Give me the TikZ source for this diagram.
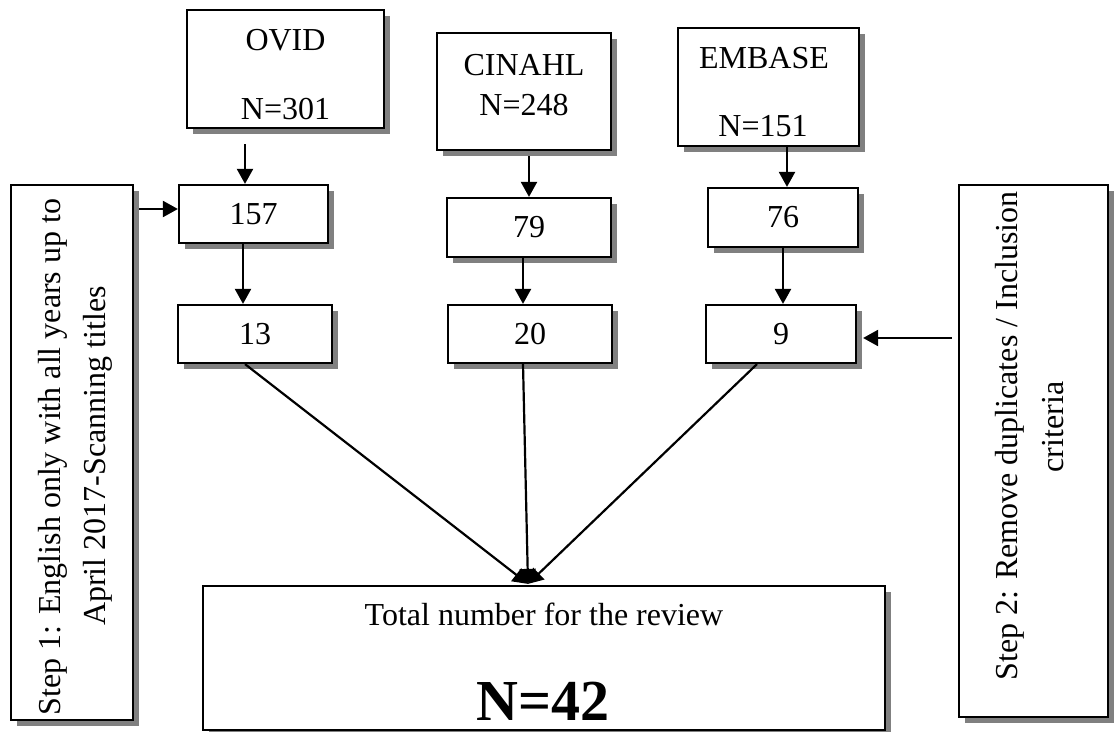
\documentclass[tikz,border=0pt]{standalone}
\usepackage{fontspec}
\setmainfont{Liberation Serif}
\usetikzlibrary{arrows.meta,shadows,calc}
\begin{document}
\begin{tikzpicture}[x=1pt,y=-1pt,
  box/.style={draw=black,line width=2.2pt,fill=white,inner sep=0pt,
    font=\fontsize{32}{38}\selectfont,
    drop shadow={shadow xshift=6pt,shadow yshift=-6pt,fill=black!50,opacity=1}},
  lbl/.style={font=\fontsize{32}{38}\selectfont,inner sep=0pt,anchor=base},
  vlbl/.style={lbl,rotate=90},
  arr/.style={line width=2.2pt,-{Triangle[length=15pt,width=16pt]}}]
\useasboundingbox (0,0) rectangle (1119,731);

% database boxes
\node[box,minimum width=197pt,minimum height=118pt] (ovid)   at (285.5,69) {};
\node[box,minimum width=174pt,minimum height=117pt] (cinahl) at (524,91.5) {};
\node[box,minimum width=181pt,minimum height=118pt] (embase) at (768.5,87) {};
\node[lbl] (ovidT) at (285.5,50) {OVID};
\node[lbl] (ovidN) at (285.5,119) {N=301};
\node[lbl] (cinT) at (524,75) {CINAHL};
\node[lbl] (cinN) at (524,115) {N=248};
\node[lbl] (embT) at (764,68) {EMBASE};
\node[lbl] (embN) at (763,136) {N=151};

% count boxes
\node[box,minimum width=149pt,minimum height=58pt] (n157) at (253.5,214) {157};
\node[box,minimum width=164pt,minimum height=59pt] (n79)  at (529,227.5) {79};
\node[box,minimum width=150pt,minimum height=59pt] (n76)  at (783,217.5) {76};
\node[box,minimum width=154pt,minimum height=58pt] (n13)  at (255,334) {13};
\node[box,minimum width=164pt,minimum height=58pt] (n20)  at (530,334) {20};
\node[box,minimum width=150pt,minimum height=58pt] (n9)   at (781,334) {9};

% step boxes
\node[box,minimum width=122pt,minimum height=535pt] (step1) at (72,452.5) {};
\node[vlbl] (s1a) at (60,457) {Step 1: English only with all years up to};
\node[vlbl] (s1b) at (105,456) {April 2017-Scanning titles};
\node[box,minimum width=149pt,minimum height=532pt] (step2) at (1033.5,451) {};
\node[vlbl] (s2a) at (1017,436) {Step 2: Remove duplicates / Inclusion};
\node[vlbl] (s2b) at (1063,427) {criteria};

% total box
\node[box,minimum width=682pt,minimum height=144pt] (total) at (544,658) {};
\node[lbl] (totT) at (544,625) {Total number for the review};
\node[lbl,font=\fontsize{58}{62}\selectfont\bfseries] (totN) at (543,720) {N=42};

% connectors
\coordinate (t157) at ([xshift=-8.5]n157.north);
\draw[arr,shorten <=15pt] (ovid.south -| t157) -- (t157);
\draw[arr] ([xshift=-10.5]n157.south) -- ([xshift=-12]n13.north);
\draw[arr,shorten <=5pt] ([xshift=5]cinahl.south) -- (n79.north);
\draw[arr] ([xshift=-6]n79.south) -- ([xshift=-7]n20.north);
\draw[arr] ([xshift=18.5]embase.south) -- ([xshift=4]n76.north);
\draw[arr] (n76.south) -- ([xshift=2]n9.north);

\coordinate (w157) at ([yshift=5]n157.west);
\draw[arr,shorten <=5pt] (step1.east |- w157) -- (w157);
\coordinate (e9) at ([xshift=6,yshift=-4]n9.east);
\draw[arr,shorten <=6pt] (step2.west |- e9) -- (e9);

\coordinate (meet) at ([xshift=-16,yshift=1]total.north);
\draw[arr] ([xshift=-10]n13.south) -- (meet);
\draw[arr] ([xshift=-7]n20.south) -- (meet);
\draw[arr] ([xshift=-24]n9.south) -- (meet);
\end{tikzpicture}
\end{document}
